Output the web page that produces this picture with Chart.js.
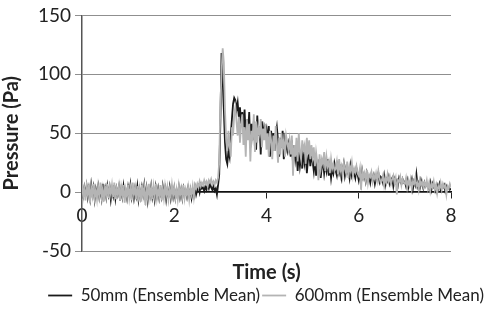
<!DOCTYPE html>
<html>
<head>
<meta charset="utf-8">
<script src="https://cdn.jsdelivr.net/npm/chart.js@4"></script>
<style>
  html, body { margin: 0; padding: 0; background: #fff; }
  #holder { width: 486px; height: 310px; }
</style>
</head>
<body>
<div id="holder"><canvas id="chart-area"></canvas></div>
<script>
// time axis, 0..8 s every 0.025 s (20 values per row = 0.5 s)
var tStart = 0, tStep = 0.025;
var seriesNames = ["50mm (Ensemble Mean)", "600mm (Ensemble Mean)"];
var xTicks = [0, 2, 4, 6, 8];
var yTicks = [-50, 0, 50, 100, 150];

// 50mm (black) values
var mean50 = [
    2, -3, 4, -2, 5, -4, 3, -5, 6, -2, 4, -6, 3, -1, 5, -4, 2, -5, 7, -3,
    3, -4, 5, -2, 4, -6, 2, -3, 6, -5, 3, -2, 4, -7, 2, -4, 5, -3, 1, -5,
    4, -2, 6, -4, 2, -5, 3, -3, 5, -6, 2, -4, 4, -2, 6, -5, 3, -7, 2, -3,
    5, -4, 2, -6, 4, -3, 3, -5, 1, -4, 5, -2, 3, -6, 2, -3, 4, -5, 2, -4,
    3, -5, 1, -3, 4, -4, 2, -5, 3, -2, 1, -4, 3, -3, 2, -5, 1, -3, 4, -2,
    2, 5, 0, 6, 3, 4, 1, 5, 2, 6, 3, 7, 4, 2, 5, 1, 3, -2, 6, 15,
    60, 118, 95, 70, 42, 28, 24, 35, 30, 48, 62, 75, 80, 78, 70, 76, 64, 72, 58, 68,
    55, 70, 45, 62, 50, 68, 38, 58, 44, 60, 52, 36, 65, 48, 56, 32, 60, 45, 55, 50,
    54, 42, 56, 30, 52, 40, 50, 35, 48, 55, 44, 30, 46, 38, 52, 28, 45, 40, 35, 42,
    38, 30, 44, 24, 40, 28, 36, 18, 34, 22, 30, 20, 38, 25, 32, 16, 28, 35, 22, 30,
    26, 18, 30, 14, 24, 20, 28, 12, 22, 26, 16, 24, 18, 28, 14, 22, 12, 20, 16, 24,
    18, 14, 22, 16, 20, 12, 18, 24, 14, 20, 16, 18, 12, 22, 14, 18, 16, 12, 20, 15,
    10, 16, 8, 18, 12, 14, 9, 16, 11, 13, 8, 15, 10, 14, 7, 12, 11, 16, 9, 13,
    12, 8, 14, 6, 11, 9, 13, 7, 10, 12, 5, 11, 8, 10, 6, 12, 9, 7, 11, 8,
    9, 5, 10, 4, 8, 7, 11, 3, 9, 6, 15, 5, 8, 4, 10, 6, 3, 8, 5, 7,
    6, 3, 8, 2, 7, 4, 5, 1, 6, 3, 7, 2, 5, 4, 6, 1, 5, 3, 4, 2,
    3
];
// 600mm (grey) values
var mean600 = [
    8, -4, 3, -7, 5, -2, 6, -9, 4, -3, 7, -5, 2, -6, 5, -3, 8, -4, 3, -8,
    5, -3, 7, -5, 4, -2, 6, -4, 8, -6, 3, -2, 5, -7, 4, -3, 6, -9, 2, -4,
    6, -5, 3, -7, 8, -2, 4, -6, 5, -4, 3, -8, 6, -3, 4, -11, 2, -5, 7, -4,
    4, -6, 5, -3, 7, -5, 2, -4, 6, -7, 3, -5, 5, -3, 4, -6, 2, -4, 6, -3,
    4, -5, 2, -6, 5, -3, 3, -4, 6, -5, 2, -3, 4, -6, 3, -2, 5, -4, 6, 3,
    7, 4, 9, 5, 8, 6, 10, 7, 9, 5, 10, 8, 11, 7, 9, 6, 10, 8, 12, 25,
    75, 100, 122, 110, 70, 45, 35, 52, 40, 30, 55, 48, 66, 72, 60, 48, 64, 42, 58, 66,
    40, 55, 30, 62, 44, 58, 26, 52, 46, 66, 34, 60, 42, 55, 50, 62, 38, 54, 44, 58,
    36, 50, 30, 52, 44, 28, 48, 35, 56, 40, 25, 46, 32, 50, 38, 44, 30, 48, 42, 36,
    44, 32, 48, 14, 40, 30, 46, 26, 50, 34, 28, 44, 36, 40, 24, 46, 32, 44, 28, 40,
    30, 38, 22, 34, 26, 10, 32, 20, 28, 24, 34, 18, 30, 22, 26, 16, 28, 20, 24, 18,
    20, 26, 15, 28, 18, 22, 14, 24, 20, 16, 26, 12, 22, 18, 25, 14, 20, 17, 22, 16,
    14, 20, 2, 18, 12, 16, 10, 19, 8, 15, 13, 17, 9, 14, 11, 16, 10, 18, 12, 8,
    10, 14, 6, 12, 8, 15, 9, 13, 7, 11, 14, 8, 12, -2, 10, 9, 13, 6, 11, 8,
    7, 12, 4, 10, 6, 11, 3, 9, 7, 12, 5, 8, 2, 10, 6, 9, 4, 8, 5, 10,
    3, 8, 1, 7, 4, 9, 2, 6, -1, 5, 3, 8, 2, 7, 4, 6, -2, 5, 3, 7,
    4
];

function toPoints(values) {
    var pts = [];
    for (var i = 0; i < values.length; i++) {
        pts.push({x: +(tStart + i * tStep).toFixed(3), y: values[i]});
    }
    return pts;
}

var FONT = "Lato, 'Open Sans', sans-serif";

var config = {
    type: 'line',
    data: {
        datasets: [{
            label: seriesNames[0],
            data: toPoints(mean50),
            borderColor: '#1a1a1a',
            backgroundColor: '#1a1a1a',
            borderWidth: 1.8,
            pointRadius: 0,
            tension: 0,
            order: 1
        }, {
            label: seriesNames[1],
            data: toPoints(mean600),
            borderColor: '#b4b4b4',
            backgroundColor: '#b4b4b4',
            borderWidth: 1.8,
            pointRadius: 0,
            tension: 0,
            order: 0
        }]
    },
    options: {
        responsive: true,
        maintainAspectRatio: false,
        animation: false,
        layout: { padding: { top: 6, right: 0, left: 0, bottom: -4 } },
        plugins: {
            tooltip: { enabled: false },
            legend: {
                position: 'bottom',
                align: 'end',
                labels: {
                    usePointStyle: true,
                    pointStyle: 'line',
                    pointStyleWidth: 24,
                    boxWidth: 24,
                    padding: 2,
                    color: '#222',
                    font: { family: FONT, size: 17, lineHeight: 1.1 },
                    sort: function(a, b) { return a.datasetIndex - b.datasetIndex; }
                }
            }
        },
        scales: {
            x: {
                type: 'linear',
                min: 0, max: 8,
                position: { y: 0 },
                afterBuildTicks: function(s) { s.ticks = xTicks.map(function(v){ return {value: v}; }); },
                grid: { display: true, drawOnChartArea: false, drawTicks: true, tickLength: 6, color: '#222' },
                border: { display: true, color: '#111', width: 1.5 },
                ticks: { padding: 6, color: '#222', maxRotation: 0, font: { family: FONT, size: 19 } }
            },
            xTitle: {
                type: 'linear',
                min: 0, max: 8,
                position: 'bottom',
                grid: { display: false },
                border: { display: false },
                ticks: { display: false },
                title: { display: true, text: 'Time (s)', color: '#222', padding: { top: 4, bottom: 2 }, font: { family: FONT, size: 20, weight: 'bold', lineHeight: 1.0 } }
            },
            y: {
                min: -50, max: 150,
                afterBuildTicks: function(s) { s.ticks = yTicks.map(function(v){ return {value: v}; }); },
                afterFit: function(s) { s.width = 82; },
                grid: { color: '#8f8f8f', lineWidth: 1, drawTicks: true, tickLength: 7 },
                border: { display: true, color: '#555', width: 1.5 },
                ticks: { padding: 4, color: '#222', font: { family: FONT, size: 19 } },
                title: { display: true, text: 'Pressure (Pa)', color: '#222', padding: { top: 0, bottom: 2 }, font: { family: FONT, size: 20, weight: 'bold' } }
            },
            // empty right-hand scale that only keeps the 35px margin right of the plot
            yRight: {
                position: 'right',
                min: -50, max: 150,
                afterFit: function(s) { s.width = 35; },
                grid: { display: false },
                border: { display: false },
                ticks: { display: false }
            }
        }
    }
};

var ctx = document.getElementById('chart-area').getContext('2d');
var myChart = new Chart(ctx, config);
</script>
</body>
</html>
